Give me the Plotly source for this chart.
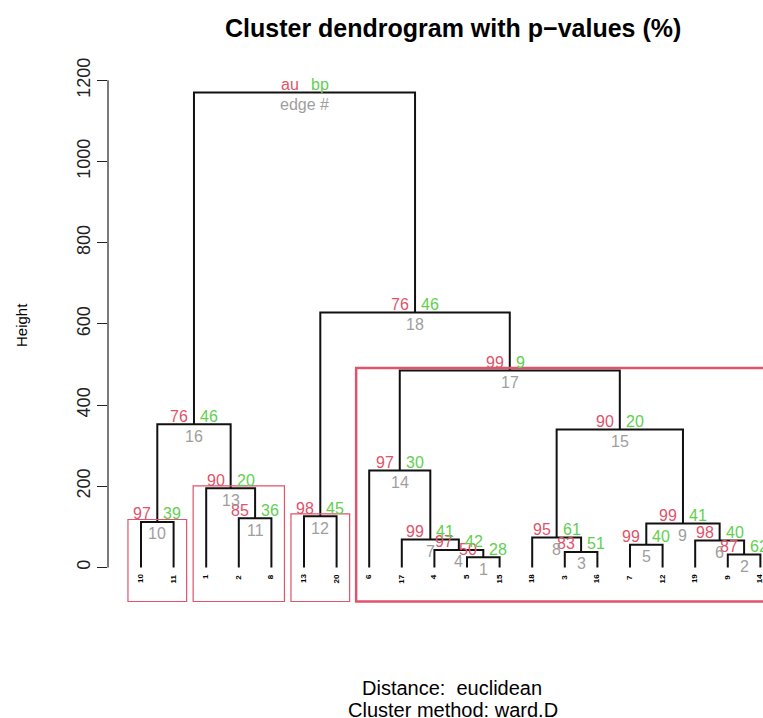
import plotly.graph_objects as go

# ---- data ----
leaf_labels = ["10", "11", "1", "2", "8", "13", "20", "6", "17", "4",
               "5", "15", "18", "3", "16", "7", "12", "19", "9", "14"]
# merges (R hclust style): negative = leaf label, positive = earlier edge number
merge_left = [-5, -9, -3, -4, -7, -19, -17, -18, 5, -10, -2, -13, -1, -6, 8, 10, 14, 12, 16]
merge_right = [-15, -14, -16, 1, -12, 2, 4, 3, 6, -11, -8, -20, 11, 7, 9, 13, 15, 17, 18]
heights = [25, 32, 38, 43, 56, 66, 69, 74, 108, 112, 121, 126, 195, 239, 340, 353, 485, 628, 1170]
au_values = ["50", "87", "83", "97", "99", "98", "99", "95", "99", "97",
             "85", "98", "90", "97", "90", "76", "99", "76", "au"]
bp_values = ["28", "62", "51", "42", "40", "40", "41", "61", "41", "39",
             "36", "45", "20", "30", "20", "46", "9", "46", "bp"]
edge_names = [str(i) for i in range(1, 19)] + ["edge #"]
rect_edges = [10, 13, 12, 17]
y_ticks = [0, 200, 400, 600, 800, 1000, 1200]

COL_AU = "#DF536B"
COL_BP = "#61D04F"
COL_EDGE = "#9E9E9E"
FONT = "Liberation Sans, Arial, Helvetica, sans-serif"

leaf_pos = {lab: i + 1 for i, lab in enumerate(leaf_labels)}
node_x, node_h, members = {}, {}, {}


def child_info(c):
    if c < 0:
        lab = str(-c)
        return leaf_pos[lab], 0.0, [leaf_pos[lab]]
    return node_x[c], node_h[c], members[c]


lx, ly = [], []
for k in range(len(heights)):
    e = k + 1
    xl, hl, ml = child_info(merge_left[k])
    xr, hr, mr = child_info(merge_right[k])
    h = heights[k]
    lx += [xl, xl, xr, xr, None]
    ly += [hl, h, h, hr, None]
    node_x[e] = (xl + xr) / 2
    node_h[e] = h
    members[e] = ml + mr

fig = go.Figure()
fig.add_trace(go.Scatter(x=lx, y=ly, mode="lines",
                         line=dict(color="#111111", width=2),
                         hoverinfo="skip", showlegend=False))

shapes = []
for e in rect_edges:
    mi, ma = min(members[e]), max(members[e])
    big = len(members[e]) > 5
    shapes.append(dict(type="rect", xref="x", yref="y",
                       x0=mi - 0.4, x1=ma + 0.4, y0=-84, y1=node_h[e] + 6,
                       line=dict(color=COL_AU, width=2.5 if big else 1.2),
                       fillcolor="rgba(0,0,0,0)"))
# y axis line from 0 to 1200
shapes.append(dict(type="line", xref="paper", yref="y", x0=0, x1=0,
                   y0=y_ticks[0], y1=y_ticks[-1], line=dict(color="#222222", width=1.2)))

ann = []
for k in range(len(heights)):
    e = k + 1
    x, h = node_x[e], node_h[e]
    ann.append(dict(x=x, y=h, text=au_values[k], showarrow=False, xanchor="right",
                    yanchor="middle", xshift=-4, yshift=8,
                    font=dict(family=FONT, size=16, color=COL_AU)))
    ann.append(dict(x=x, y=h, text=bp_values[k], showarrow=False, xanchor="left",
                    yanchor="middle", xshift=4, yshift=8,
                    font=dict(family=FONT, size=16, color=COL_BP)))
    ann.append(dict(x=x, y=h, text=edge_names[k], showarrow=False, xanchor="center",
                    yanchor="middle", yshift=-12,
                    font=dict(family=FONT, size=16, color=COL_EDGE)))

for lab, p in leaf_pos.items():
    ann.append(dict(x=p, y=0, text="<b>" + lab + "</b>", showarrow=False,
                    textangle=-90, xanchor="center", yanchor="top", yshift=-5,
                    font=dict(family=FONT, size=8, color="#000000")))

ann.append(dict(xref="paper", yref="paper", x=0.527, y=1.0507,
                text="<b>Cluster dendrogram with p\u2212values (%)</b>", showarrow=False,
                xanchor="center", yanchor="middle",
                font=dict(family=FONT, size=25, color="#000000")))
ann.append(dict(xref="paper", yref="paper", x=-0.1313, y=0.5127, text="Height",
                showarrow=False, textangle=-90, xanchor="center", yanchor="middle",
                font=dict(family=FONT, size=15, color="#000000")))
ann.append(dict(xref="paper", yref="paper", x=0.525, y=-0.1449,
                text="Distance:\u00a0 euclidean", showarrow=False,
                xanchor="center", yanchor="middle",
                font=dict(family=FONT, size=20, color="#000000")))
ann.append(dict(xref="paper", yref="paper", x=0.527, y=-0.1848,
                text="Cluster method: ward.D", showarrow=False,
                xanchor="center", yanchor="middle",
                font=dict(family=FONT, size=20, color="#000000")))

fig.update_layout(
    width=763, height=718,
    margin=dict(l=108, r=0, t=56, b=110),
    paper_bgcolor="white", plot_bgcolor="white",
    shapes=shapes, annotations=ann, showlegend=False,
    xaxis=dict(range=[-0.0123, 20.08], visible=False, fixedrange=True),
    yaxis=dict(range=[-100, 1260], showgrid=False, zeroline=False, showline=False,
               tickmode="array", tickvals=y_ticks, ticktext=[str(v) for v in y_ticks],
               ticks="outside", ticklen=10, tickcolor="#222222", tickwidth=1.2,
               tickangle=-90,
               tickfont=dict(family=FONT, size=18, color="#222222")),
)

fig.write_html("out.html", config={"displayModeBar": False},
               post_script="document.body.style.margin='0';document.body.style.overflow='hidden';")
